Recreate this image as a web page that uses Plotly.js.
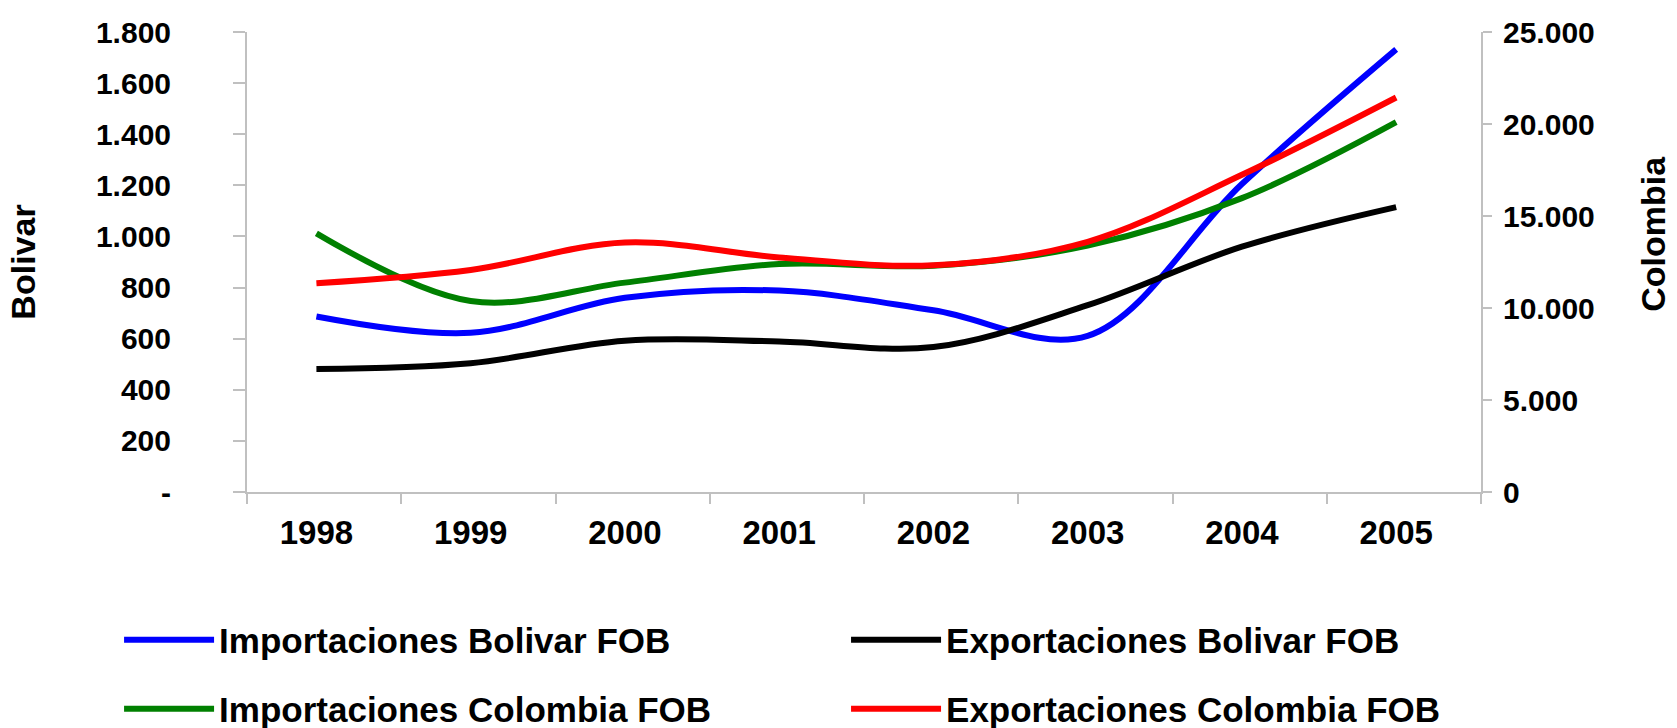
<!DOCTYPE html>
<html>
<head>
<meta charset="utf-8">
<script src="https://cdn.plot.ly/plotly-3.0.1.min.js"></script>
<style>
  html, body { margin: 0; padding: 0; background: #ffffff; }
  #chart { width: 1677px; height: 728px; }
</style>
</head>
<body>
<div id="chart"></div>
<script>
// ---- data ----
const years = [1998, 1999, 2000, 2001, 2002, 2003, 2004, 2005];
const yearLabels = ['1998', '1999', '2000', '2001', '2002', '2003', '2004', '2005'];
const importacionesBolivar = [687, 623, 760, 788, 711, 611, 1205, 1732];
const exportacionesBolivar = [481, 504, 592, 589, 567, 731, 960, 1115];
const importacionesColombia = [14060, 10380, 11380, 12390, 12300, 13390, 15970, 20100];
const exportacionesColombia = [11350, 12070, 13560, 12750, 12320, 13600, 17240, 21440];

const leftTickVals = [0, 200, 400, 600, 800, 1000, 1200, 1400, 1600, 1800];
const leftTickText = ['-', '200', '400', '600', '800', '1.000', '1.200', '1.400', '1.600', '1.800'];
const rightTickVals = [0, 5000, 10000, 15000, 20000, 25000];
const rightTickText = ['0', '5.000', '10.000', '15.000', '20.000', '25.000'];
const categoryEdges = [1997.55, 1998.55, 1999.55, 2000.55, 2001.55, 2002.55, 2003.55, 2004.55, 2005.55];

// ---- styling ----
const FONT = 'Liberation Sans, Arial, Helvetica, sans-serif';
const AXIS_GRAY = '#c0c0c0';
const xRange = [1997.55, 2005.55];

const lineStyle = (color) => ({ color: color, width: 6, shape: 'spline', smoothing: 1 });

const traces = [
  { x: years, y: importacionesBolivar, name: 'Importaciones Bolivar FOB', type: 'scatter', mode: 'lines',
    line: lineStyle('#0000ff'), xaxis: 'x', yaxis: 'y', legend: 'legend' },
  { x: years, y: exportacionesBolivar, name: 'Exportaciones Bolivar FOB', type: 'scatter', mode: 'lines',
    line: lineStyle('#000000'), xaxis: 'x', yaxis: 'y', legend: 'legend2' },
  { x: years, y: importacionesColombia, name: 'Importaciones Colombia FOB', type: 'scatter', mode: 'lines',
    line: lineStyle('#008000'), xaxis: 'x', yaxis: 'y2', legend: 'legend3' },
  { x: years, y: exportacionesColombia, name: 'Exportaciones Colombia FOB', type: 'scatter', mode: 'lines',
    line: lineStyle('#ff0000'), xaxis: 'x', yaxis: 'y2', legend: 'legend4' }
];

const xTickFont = { family: FONT, size: 33, color: '#000000', weight: 'bold' };
const yTickFont = { family: FONT, size: 30, color: '#000000', weight: 'bold' };
const titleFont = { family: FONT, size: 34, color: '#000000', weight: 'bold' };
const legendFont = { family: FONT, size: 35, color: '#000000', weight: 'bold' };

const legendBox = (x, y) => ({
  orientation: 'h', xref: 'container', yref: 'container',
  x: x, xanchor: 'left', y: y, yanchor: 'middle',
  itemwidth: 90, font: legendFont, bgcolor: 'rgba(0,0,0,0)', borderwidth: 0
});

const layout = {
  width: 1677, height: 728,
  margin: { l: 247, r: 196, t: 32, b: 236, pad: 0 },
  paper_bgcolor: '#ffffff', plot_bgcolor: '#ffffff',
  showlegend: true,
  font: { family: FONT, color: '#000000' },
  xaxis: {
    range: xRange, fixedrange: true,
    tickmode: 'array', tickvals: years, ticktext: yearLabels,
    ticks: '', ticklabelstandoff: 10,
    tickfont: xTickFont,
    showline: true, linecolor: AXIS_GRAY, linewidth: 2,
    showgrid: false, zeroline: false, anchor: 'y',
    minor: { tickmode: 'array', tickvals: categoryEdges, ticks: 'outside', ticklen: 10, tickwidth: 2, tickcolor: AXIS_GRAY, showgrid: false }
  },
  xaxis2: {
    range: xRange, fixedrange: true, overlaying: 'x', anchor: 'y',
    tickmode: 'array', tickvals: categoryEdges,
    ticks: 'inside', ticklen: 9, tickwidth: 2, tickcolor: AXIS_GRAY,
    showticklabels: false, showline: false, showgrid: false, zeroline: false
  },
  yaxis: {
    range: [0, 1800], fixedrange: true,
    tickmode: 'array', tickvals: leftTickVals, ticktext: leftTickText,
    ticks: 'outside', ticklen: 12, tickwidth: 2, tickcolor: AXIS_GRAY,
    ticklabelstandoff: 56,
    tickfont: yTickFont,
    showline: true, linecolor: AXIS_GRAY, linewidth: 2,
    showgrid: false, zeroline: false, anchor: 'x',
    title: { text: 'Bolivar', font: titleFont, standoff: 50 }
  },
  yaxis3: {
    range: [0, 1800], fixedrange: true, overlaying: 'y', side: 'left', anchor: 'x',
    tickmode: 'array', tickvals: leftTickVals,
    ticks: 'inside', ticklen: 7, tickwidth: 2, tickcolor: AXIS_GRAY,
    showticklabels: false, showline: false, showgrid: false, zeroline: false
  },
  yaxis2: {
    range: [0, 25000], fixedrange: true, overlaying: 'y', side: 'right', anchor: 'x',
    tickmode: 'array', tickvals: rightTickVals, ticktext: rightTickText,
    ticks: 'outside', ticklen: 9, tickwidth: 2, tickcolor: AXIS_GRAY,
    ticklabelstandoff: 5,
    tickfont: yTickFont,
    showline: true, linecolor: AXIS_GRAY, linewidth: 2,
    showgrid: false, zeroline: false
  },
  yaxis4: {
    range: [0, 25000], fixedrange: true, overlaying: 'y', side: 'right', anchor: 'x',
    tickmode: 'array', tickvals: rightTickVals,
    ticks: 'inside', ticklen: 11, tickwidth: 2, tickcolor: AXIS_GRAY,
    showticklabels: false, showline: false, showgrid: false, zeroline: false
  },
  annotations: [
    { text: 'Colombia', xref: 'paper', yref: 'paper', x: 1.1394, y: 0.5615,
      xanchor: 'center', yanchor: 'middle', textangle: -90, showarrow: false, font: titleFont }
  ],
  legend: legendBox(0.071, 1 - 640 / 728),
  legend2: legendBox(0.5045, 1 - 640 / 728),
  legend3: legendBox(0.071, 1 - 709 / 728),
  legend4: legendBox(0.5045, 1 - 709 / 728)
};

Plotly.newPlot('chart', traces, layout, { displayModeBar: false, staticPlot: true });
</script>
</body>
</html>
